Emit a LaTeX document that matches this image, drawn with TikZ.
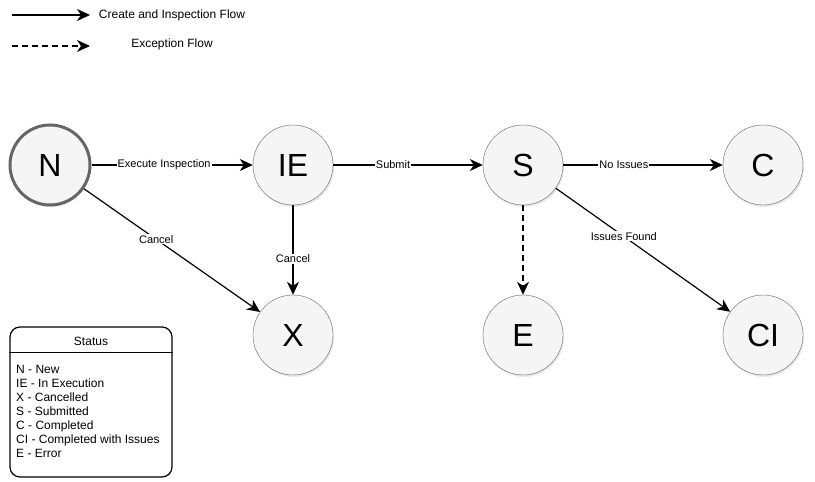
\documentclass[tikz,border=0pt]{standalone}
\usepackage{fontspec}
\setmainfont{Liberation Sans}
\usetikzlibrary{arrows.meta,shadows}

\begin{document}
\begin{tikzpicture}[x=1pt, y=-1pt,
    state/.style ={circle, draw=black!60, fill=black!4, inner sep=0pt, minimum size=80pt,
      font=\fontsize{32}{32}\selectfont,
      drop shadow={opacity=0.18, shadow xshift=1pt, shadow yshift=-2pt}},
    flow/.style ={line width=1.2pt, -{Stealth[length=13pt, width=12pt, inset=4pt]}},
    exception/.style ={flow, dash pattern=on 6pt off 4pt},
    lbl/.style ={fill=white, inner sep=1pt, font=\fontsize{11}{13}\selectfont},
    legend/.style ={font=\fontsize{12}{14}\selectfont}]
   \useasboundingbox (0,0) rectangle (815,482);
   % legend
   \coordinate (solidA) at (12,15);
   \coordinate (solidB) at (90,15);
   \coordinate (dashA) at (12,46);
   \coordinate (dashB) at (90,46);
   \node[legend] (createLbl) at (172,15) {Create and Inspection Flow};
   \node[legend] (exceptLbl) at (172,44) {Exception Flow};
   \draw[flow] (solidA) to (solidB);
   \draw[exception] (dashA) to (dashB);
   % states
   \node[state, draw=black!60, line width=3pt] (N)  at (50,165)  {N};
   \node[state] (IE) at (293,165) {IE};
   \node[state] (S)  at (523,165) {S};
   \node[state] (C)  at (763,165) {C};
   \node[state] (X)  at (293,335) {X};
   \node[state] (E)  at (523,335) {E};
   \node[state] (CI) at (763,335) {CI};
   % transitions
   \draw[flow] (N)  to node[lbl, pos=0.45] {Execute Inspection} (IE);
   \draw[flow] (IE) to node[lbl, pos=0.4] {Submit} (S);
   \draw[flow] (S)  to node[lbl, pos=0.38] {No Issues} (C);
   \draw[flow] (N)  to node[lbl, pos=0.41] {Cancel} (X);
   \draw[flow] (IE) to node[lbl, pos=0.6] {Cancel} (X);
   \draw[flow] (S)  to node[lbl, pos=0.39] {Issues Found} (CI);
   \draw[exception] (S) to (E);
   % status key
   \node[draw, line width=1.2pt, rounded corners=10pt, minimum width=162pt, minimum height=150pt] (status) at (91,402) {};
   \draw[line width=0.8pt] ([yshift=-26pt]status.north west) -- ([yshift=-26pt]status.north east);
   \node[legend] (statusTitle) at (91,341) {Status};
   \node[legend, anchor=north west, align=left, inner sep=2pt] (statusList) at (14,363)
     {N - New\\IE - In Execution\\X - Cancelled\\S - Submitted\\C - Completed\\CI - Completed with Issues\\E - Error};
 \end{tikzpicture}
\end{document}
